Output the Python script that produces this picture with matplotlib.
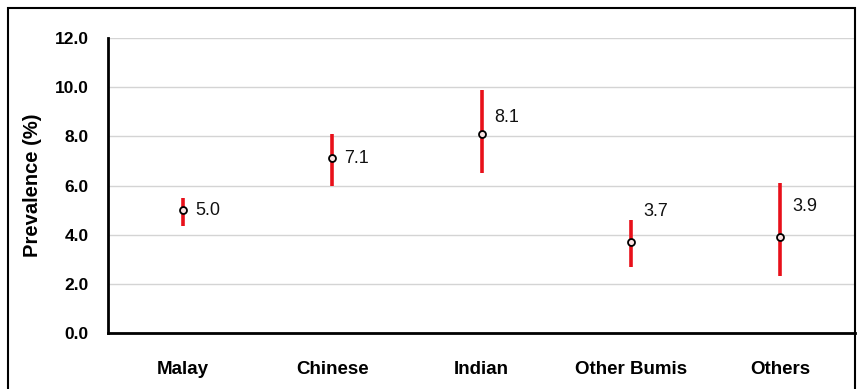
import numpy as np
import matplotlib.pyplot as plt
from matplotlib.patches import Rectangle

plt.switch_backend('Agg')
plt.rcParams['font.family'] = ['Liberation Sans', 'DejaVu Sans']

# Prevalence by ethnicity with 95% CI
groups = ['Malay', 'Chinese', 'Indian', 'Other Bumis', 'Others']
prevalence = [5.0, 7.1, 8.1, 3.7, 3.9]
ci_low = [4.35, 6.0, 6.5, 2.7, 2.3]
ci_high = [5.5, 8.1, 9.9, 4.6, 6.1]
y_ticks = [0, 2, 4, 6, 8, 10, 12]

# vertical nudge of the value labels (points)
label_dy = [0, 0, 12, 22, 22]

fig = plt.figure(figsize=(8.6, 3.89), dpi=100)
ax = fig.add_axes([108 / 860, 1 - 333 / 389, 747 / 860, 295 / 389])

x = np.arange(len(groups)) + 0.5
yerr = [np.array(prevalence) - np.array(ci_low), np.array(ci_high) - np.array(prevalence)]
ax.errorbar(x, prevalence, yerr=yerr, fmt='none', ecolor='#e8101a', elinewidth=2.6, capsize=0, zorder=3)
ax.plot(x, prevalence, 'o', ms=5, mfc='#fbe3e3', mec='black', mew=1.3, zorder=4)

for xi, v, dy in zip(x, prevalence, label_dy):
    ax.annotate(f'{v:.1f}', (xi, v), xytext=(9, dy), textcoords='offset points',
                ha='left', va='center', fontsize=13, color='#111111')

ax.set_xlim(0, len(groups))
ax.set_ylim(0, 12)
ax.set_yticks(y_ticks)
ax.set_yticklabels([f'{t:.1f}' for t in y_ticks], fontsize=12.5, fontweight='bold')
ax.set_xticks(x)
ax.set_xticklabels(groups, fontsize=13.5, fontweight='bold')
ax.tick_params(axis='both', length=0)
ax.tick_params(axis='y', pad=14)
ax.tick_params(axis='x', pad=20)
ax.yaxis.grid(True, color='#d4d4d4', lw=1)
ax.set_axisbelow(True)
for s in ['top', 'right']:
    ax.spines[s].set_visible(False)
for s in ['left', 'bottom']:
    ax.spines[s].set_linewidth(2)
    ax.spines[s].set_color('black')
ax.set_ylabel('Prevalence (%)', fontsize=14.5, fontweight='bold', labelpad=9)

# outer frame
fig.patches.append(Rectangle((8 / 860, -0.05), 847 / 860, 1.05 - 8 / 389,
                             transform=fig.transFigure, fill=False, ec='black', lw=1.5))

fig.savefig('out.png', dpi=100)
